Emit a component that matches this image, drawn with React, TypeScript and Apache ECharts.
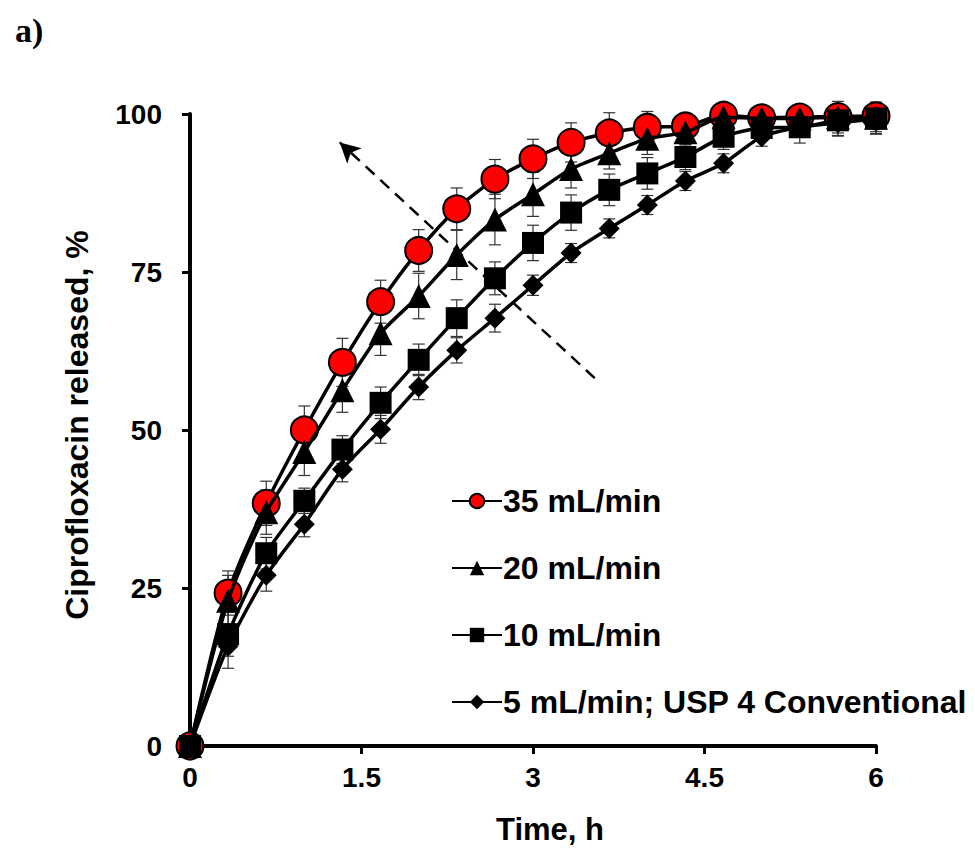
import React, { useEffect, useRef } from "react";
import * as echarts from "echarts";

const times = [0, 0.333, 0.667, 1, 1.333, 1.667, 2, 2.333, 2.667, 3, 3.333, 3.667, 4, 4.333, 4.667, 5, 5.333, 5.667, 6];
const seriesNames = ["35 mL/min", "20 mL/min", "10 mL/min", "5 mL/min; USP 4 Conventional"];
const red35 = [0, 24.2, 38.4, 50, 60.7, 70.3, 78.4, 85, 89.7, 92.9, 95.5, 97, 97.9, 98.1, 99.8, 99.4, 99.5, 99.6, 99.7];
const tri20 = [0, 23, 37, 46.5, 56.3, 65.3, 71.2, 77.7, 83.3, 87.3, 91.3, 93.8, 96.1, 97.1, 99.5, 99.3, 99.3, 99.5, 99.4];
const sq10 = [0, 17.7, 30.5, 38.8, 46.9, 54.3, 61.1, 67.7, 74, 79.6, 84.4, 88, 90.6, 93.2, 96.4, 97.8, 97.9, 99, 99.3];
const dia5 = [0, 15.8, 27, 35.1, 43.8, 50.1, 56.8, 62.6, 67.7, 72.9, 78, 81.9, 85.6, 89.4, 92.2, 96.4, 97.9, 98.6, 99.2];
const err35 = [0, 3.5, 3.5, 3.8, 3.8, 3.4, 3.3, 3.3, 3.1, 3.1, 3.1, 3.2, 2.5, 2, 1.5, 1.5, 1.5, 1.5, 1.5];
const err20 = [0, 4, 3.5, 3.7, 3.5, 3.5, 3.6, 3.9, 4, 3.5, 3, 2.5, 2.5, 2, 2, 2, 2, 2.5, 2.5];
const err10 = [0, 3.5, 2.5, 2, 2.2, 2.5, 2.5, 2.9, 2.6, 2.8, 2.8, 2.5, 2.5, 2, 2, 2, 2.5, 2.5, 2.5];
const err5 = [0, 3.5, 2.5, 2, 2, 2.2, 2, 2, 2.2, 1.6, 1.5, 1.5, 1.5, 1.5, 1.5, 1.5, 1.5, 2, 2];
const arrowStart = [3.54, 58.2];
const arrowEnd = [1.31, 95.5];
const xTicks = { min: 0, max: 6, interval: 1.5 };
const yTicks = { min: 0, max: 100, interval: 25 };

const FONT = '"Liberation Sans", Arial, sans-serif';

export default function App() {
  const ref = useRef<HTMLDivElement>(null);
  useEffect(() => {
    if (!ref.current) return;
    const chart = echarts.init(ref.current, null, { renderer: "svg" });
    const values = [red35, tri20, sq10, dia5];
    const errs = [err35, err20, err10, err5];
    const symbols = ["circle", "triangle", "rect", "diamond"];
    const sizes = [27, 24, 22, 21];
    const colors = ["#ff0000", "#000000", "#000000", "#000000"];

    const lineSeries: any[] = values.map((vals, k) => ({
      name: seriesNames[k],
      type: "line",
      data: times.map((t, i) => [t, vals[i]]),
      symbol: symbols[k],
      symbolSize: sizes[k],
      smooth: 0.25,
      z: 10 + k,
      itemStyle: { color: colors[k], borderColor: "#000", borderWidth: k === 0 ? 2 : 0 },
      lineStyle: { color: "#000", width: 3.5 },
      markLine:
        k === 0
          ? {
              silent: true,
              symbol: ["none", "arrow"],
              symbolSize: [16, 20],
              label: { show: false },
              lineStyle: { color: "#000", width: 2.5, type: [12, 8] },
              data: [[{ coord: arrowStart }, { coord: arrowEnd }]],
            }
          : undefined,
    }));

    const errSeries: any[] = values.map((vals, k) => ({
      type: "custom",
      z: 5,
      silent: true,
      data: times.map((t, i) => [t, vals[i] - errs[k][i], vals[i] + errs[k][i]]),
      renderItem: (params: any, api: any) => {
        const x = api.value(0);
        const lo = api.coord([x, api.value(1)]);
        const hi = api.coord([x, api.value(2)]);
        const w = 6;
        const style = { stroke: "#333", lineWidth: 1.2 };
        return {
          type: "group",
          children: [
            { type: "line", shape: { x1: lo[0], y1: lo[1], x2: hi[0], y2: hi[1] }, style },
            { type: "line", shape: { x1: lo[0] - w, y1: lo[1], x2: lo[0] + w, y2: lo[1] }, style },
            { type: "line", shape: { x1: hi[0] - w, y1: hi[1], x2: hi[0] + w, y2: hi[1] }, style },
          ],
        };
      },
    }));

    chart.setOption({
      animation: false,
      backgroundColor: "#fff",
      title: {
        text: "a)",
        left: 10,
        top: 8,
        textStyle: { fontFamily: '"Liberation Serif", "Times New Roman", serif', fontWeight: "bold", fontSize: 34, color: "#000" },
      },
      grid: { left: 190, right: 99, top: 114, bottom: 111 },
      legend: {
        data: seriesNames,
        orient: "vertical",
        left: 446,
        top: 480,
        itemGap: 35,
        itemWidth: 50,
        itemHeight: 18,
        textStyle: { fontFamily: FONT, fontWeight: "bold", fontSize: 32, color: "#000", padding: [0, 0, 0, -4] },
      },
      xAxis: {
        type: "value",
        ...xTicks,
        name: "Time, h",
        nameLocation: "middle",
        nameGap: 68,
        nameTextStyle: { fontFamily: FONT, fontWeight: "bold", fontSize: 31, color: "#000", padding: [0, 0, 0, 34] },
        axisLine: { show: true, lineStyle: { color: "#000", width: 4 } },
        axisTick: { show: true, length: 8, lineStyle: { color: "#000", width: 3 } },
        axisLabel: { fontFamily: FONT, fontWeight: "bold", fontSize: 28, color: "#000", margin: 17 },
        splitLine: { show: false },
      },
      yAxis: {
        type: "value",
        ...yTicks,
        name: "Ciprofloxacin released, %",
        nameLocation: "middle",
        nameGap: 97,
        nameTextStyle: { fontFamily: FONT, fontWeight: "bold", fontSize: 32, color: "#000", padding: [0, 0, 0, 10] },
        axisLine: { show: true, lineStyle: { color: "#000", width: 4 } },
        axisTick: { show: true, length: 8, lineStyle: { color: "#000", width: 3 } },
        axisLabel: { fontFamily: FONT, fontWeight: "bold", fontSize: 28, color: "#000", margin: 28 },
        splitLine: { show: false },
      },
      series: [...errSeries, ...lineSeries],
    });
    return () => chart.dispose();
  }, []);
  return <div ref={ref} style={{ width: 975, height: 857, position: "absolute", left: 0, top: 0 }} />;
}
